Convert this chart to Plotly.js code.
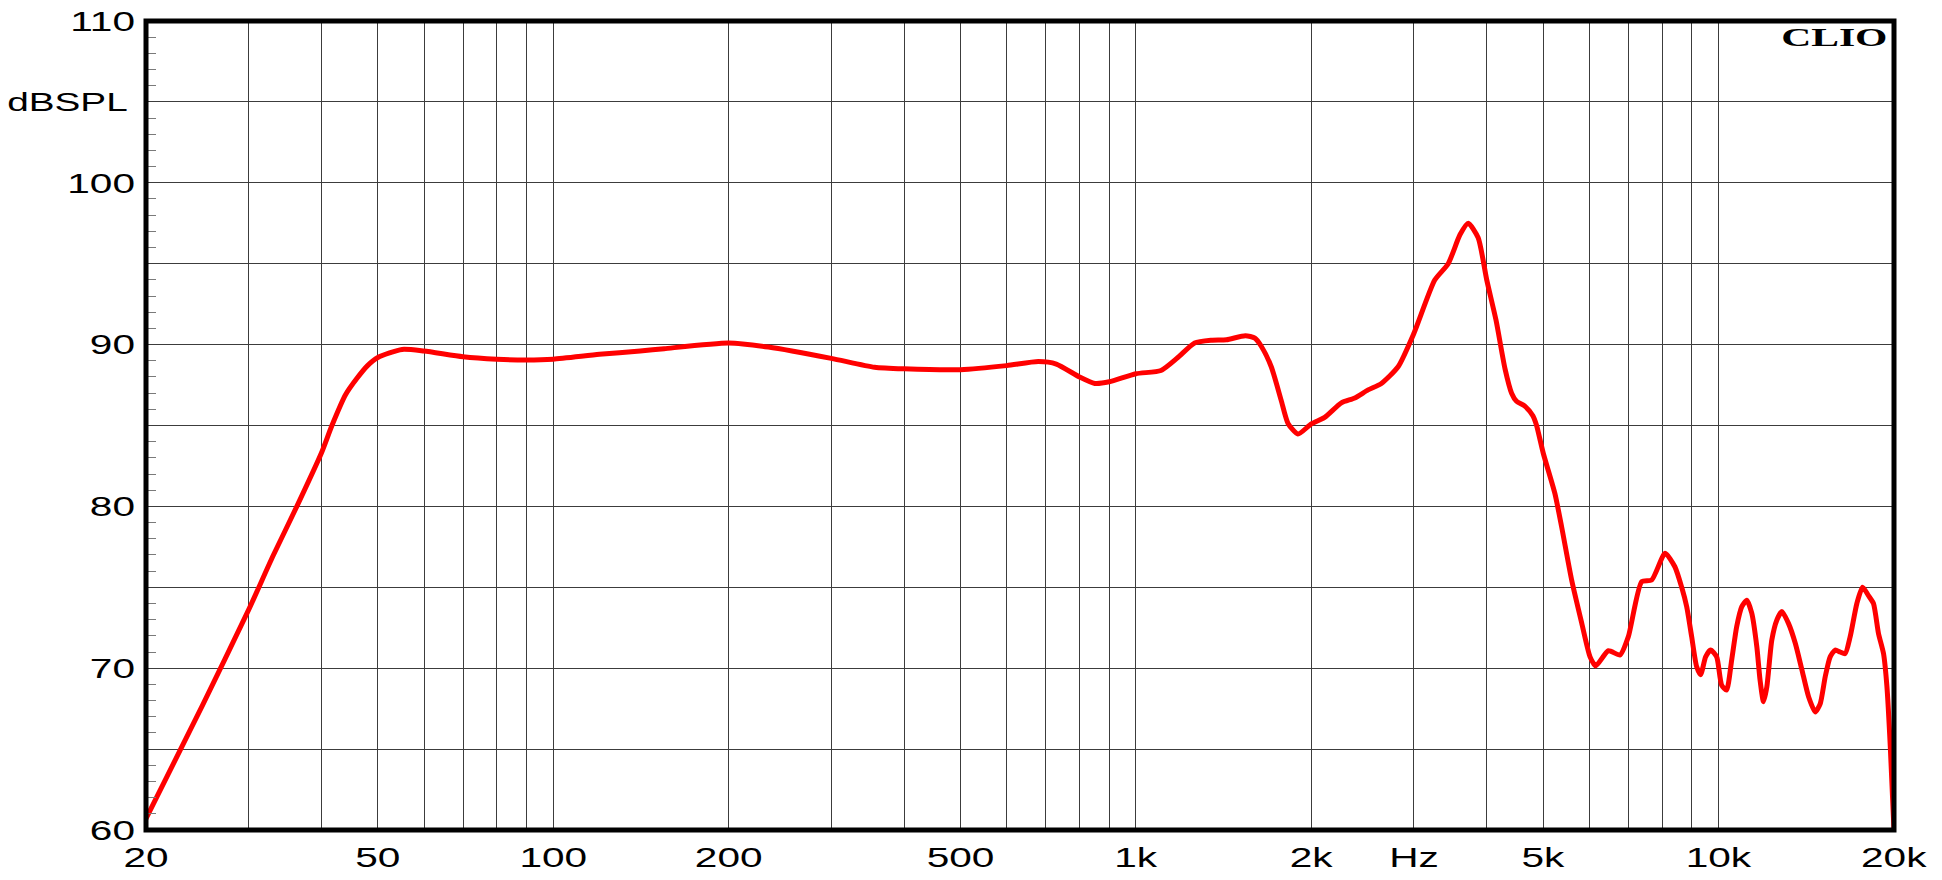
<!DOCTYPE html>
<html>
<head>
<meta charset="utf-8">
<script src="https://cdn.plot.ly/plotly-3.0.1.min.js"></script>
<style>
html,body{margin:0;padding:0;background:#fff;}
#chart{width:1942px;height:880px;}
</style>
</head>
<body>
<div id="chart"></div>
<script>
// Frequency response data (Hz, dB SPL)
const freqHz = [20, 25, 30, 33, 36.3, 40, 41.7, 44, 46, 48, 50, 55, 60, 70, 80, 90, 100, 120, 141, 155, 200, 234, 300, 356, 400, 500, 600, 680, 730, 800, 850, 900, 1000, 1104, 1180, 1261, 1347, 1430, 1541, 1600, 1641, 1707, 1775, 1824, 1897, 2000, 2108, 2252, 2375, 2503, 2638, 2818, 3000, 3257, 3435, 3600, 3718, 3867, 4000, 4150, 4300, 4413, 4500, 4650, 4800, 4871, 5000, 5236, 5377, 5595, 5821, 6017, 6153, 6469, 6772, 7000, 7381, 7677, 8094, 8413, 8643, 8816, 8990, 9168, 9315, 9500, 9690, 9925, 10120, 10320, 10530, 10740, 10960, 11180, 11400, 11630, 11780, 11940, 12100, 12340, 12590, 12840, 13180, 13540, 13900, 14270, 14650, 14940, 15240, 15540, 15850, 16170, 16490, 16820, 17270, 17660, 18070, 18440, 18810, 19190, 19450, 19710, 20000];
const splDb = [60.7, 67.7, 73.6, 76.9, 80.0, 83.3, 85.0, 86.9, 87.9, 88.7, 89.2, 89.7, 89.6, 89.25, 89.1, 89.05, 89.1, 89.4, 89.6, 89.75, 90.1, 89.85, 89.15, 88.6, 88.5, 88.45, 88.7, 88.95, 88.8, 88.0, 87.6, 87.7, 88.2, 88.4, 89.2, 90.1, 90.27, 90.3, 90.55, 90.4, 89.9, 88.63, 86.57, 85.13, 84.47, 85.1, 85.5, 86.4, 86.7, 87.2, 87.6, 88.63, 90.7, 93.99, 95.0, 96.8, 97.5, 96.6, 94.0, 91.5, 88.5, 87.0, 86.5, 86.2, 85.6, 85.0, 83.3, 80.8, 78.75, 75.45, 72.8, 70.7, 70.14, 71.08, 70.82, 71.95, 75.35, 75.45, 77.1, 76.27, 75.0, 73.8, 71.95, 70.1, 69.6, 70.7, 71.12, 70.7, 68.96, 68.65, 70.5, 72.56, 73.8, 74.2, 73.4, 71.33, 69.27, 67.93, 68.85, 71.74, 72.98, 73.5, 72.77, 71.54, 69.9, 68.24, 67.3, 67.8, 69.47, 70.7, 71.12, 71.0, 70.9, 71.95, 74.0, 75.0, 74.5, 74.0, 72.15, 70.9, 68.85, 65.14, 60.0];

// Axis ticks
const xTickVals = [20, 50, 100, 200, 500, 1000, 2000, 3000, 5000, 10000, 20000];
const xTickText = ['20', '50', '100', '200', '500', '1k', '2k', 'Hz', '5k', '10k', '20k'];
const xGridMinor = [30, 40, 60, 70, 80, 90, 300, 400, 600, 700, 800, 900, 4000, 6000, 7000, 8000, 9000];
const yTickVals = [60, 65, 70, 75, 80, 85, 90, 95, 100, 105, 110];
const yTickText = ['60', '', '70', '', '80', '', '90', '', '100', '', '110'];
const yUnitLabel = 'dBSPL';
const yUnitAt = 105;
const brandText = 'CLIO';

const yMinorVals = [];
for (let v = 60; v <= 110; v++) { if (v % 5 !== 0) yMinorVals.push(v); }

const gridCol = '#3c3c3c';
const sansFont = 'Liberation Sans, Arial, sans-serif';

const trace = {
  x: freqHz, y: splDb, type: 'scatter', mode: 'lines',
  line: {color: '#ff0000', width: 5, shape: 'spline', smoothing: 0.6},
  hoverinfo: 'skip', cliponaxis: true
};

const layout = {
  width: 1942, height: 880,
  margin: {l: 146, r: 48, t: 21, b: 50, pad: 0},
  paper_bgcolor: '#ffffff', plot_bgcolor: '#ffffff',
  showlegend: false,
  font: {family: sansFont, size: 28, color: '#000'},
  xaxis: {
    type: 'log', range: [Math.log10(20), Math.log10(20000)],
    tickmode: 'array', tickvals: xTickVals, ticktext: xTickText,
    showgrid: true, gridcolor: gridCol, gridwidth: 1,
    showline: false, ticks: '', ticklabelstandoff: 8, zeroline: false,
    tickfont: {family: sansFont, size: 28, color: '#000'},
    minor: {tickmode: 'array', tickvals: xGridMinor, showgrid: true, gridcolor: gridCol, gridwidth: 1, ticks: ''}
  },
  yaxis: {
    range: [60, 110],
    tickmode: 'array', tickvals: yTickVals, ticktext: yTickText,
    showgrid: true, gridcolor: gridCol, gridwidth: 1,
    showline: false, mirror: 'allticks',
    ticks: '', ticklabelstandoff: 10, zeroline: false,
    tickfont: {family: sansFont, size: 28, color: '#000'},
    minor: {tickmode: 'array', tickvals: yMinorVals, ticks: 'inside', ticklen: 10, tickcolor: '#7a7a7a', tickwidth: 1, showgrid: false}
  },
  shapes: [{
    type: 'rect', xref: 'paper', yref: 'paper', x0: 0, x1: 1, y0: 0, y1: 1,
    line: {color: '#000', width: 5}, fillcolor: 'rgba(0,0,0,0)', layer: 'above'
  }],
  annotations: [{
    text: '<b>' + brandText + '</b>', xref: 'paper', yref: 'paper', x: 1, y: 1,
    xanchor: 'right', yanchor: 'top', xshift: -5, yshift: 0, showarrow: false,
    font: {family: 'Liberation Serif, Times New Roman, serif', size: 26, color: '#000'}
  }, {
    text: yUnitLabel, xref: 'paper', yref: 'y', x: 0, y: yUnitAt,
    xanchor: 'right', yanchor: 'middle', xshift: -16, showarrow: false,
    font: {family: sansFont, size: 25, color: '#000'}
  }]
};

// The reference lettering is horizontally stretched; widen text around its anchor
function stretch(el, s, anchor) {
  const bb = el.getBBox();
  let ax = bb.x + bb.width / 2;
  if (anchor === 'right') ax = bb.x + bb.width;
  const t = el.getAttribute('transform') || '';
  el.setAttribute('transform', t + ' translate(' + ax + ',0) scale(' + s + ',1) translate(' + (-ax) + ',0)');
}

Plotly.newPlot('chart', [trace], layout, {displayModeBar: false, staticPlot: true}).then(function (gd) {
  gd.querySelectorAll('g.xtick text').forEach(function (el) { stretch(el, 1.45, 'middle'); });
  gd.querySelectorAll('g.ytick text').forEach(function (el) { stretch(el, 1.45, 'right'); });
  const ann = gd.querySelectorAll('text.annotation-text');
  if (ann[0]) stretch(ann[0], 1.6, 'right');
  if (ann[1]) stretch(ann[1], 1.55, 'right');
});
</script>
</body>
</html>
